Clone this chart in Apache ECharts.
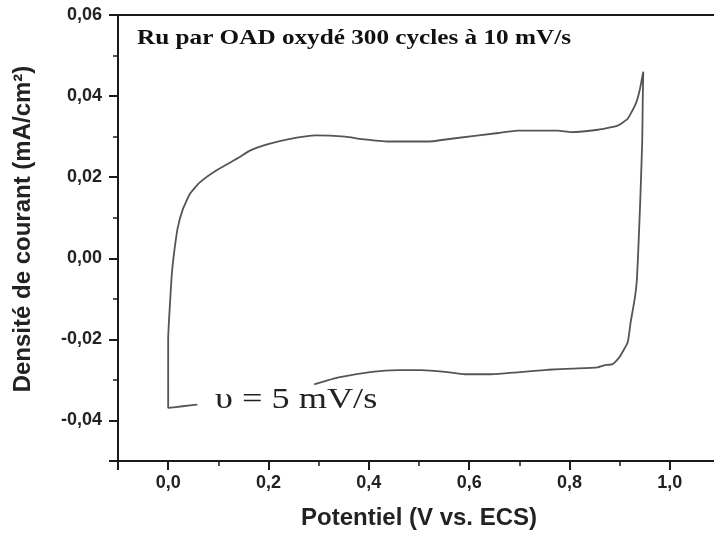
<!DOCTYPE html>
<html>
<head>
<meta charset="utf-8">
<script src="https://cdn.jsdelivr.net/npm/echarts@6/dist/echarts.min.js"></script>
<style>
  html, body { margin: 0; padding: 0; background: #ffffff; overflow: hidden; width: 714px; height: 535px; }
  #chart { width: 723px; height: 535px; }
</style>
</head>
<body>
<div id="chart"></div>
<script>
// Potential (V vs. ECS) along the recorded voltammogram
const potential = [0.058, 0.029, 0.000, 0.000, 0.005, 0.008, 0.013, 0.019, 0.029, 0.043,
  0.062, 0.095, 0.142, 0.162, 0.201, 0.241, 0.294, 0.353, 0.386, 0.439,
  0.519, 0.572, 0.658, 0.697, 0.777, 0.803, 0.857, 0.896, 0.916, 0.932,
  0.940, 0.947, 0.946, 0.945, 0.941, 0.937, 0.934, 0.930, 0.922, 0.916,
  0.899, 0.886, 0.869, 0.856, 0.806, 0.757, 0.691, 0.644, 0.592, 0.552,
  0.505, 0.459, 0.406, 0.340, 0.291];
// Current density (mA/cm²)
const current = [-0.0361, -0.0365, -0.0369, -0.0200, -0.0083, -0.0029, 0.0025, 0.0075, 0.0120, 0.0158,
  0.0186, 0.0216, 0.0249, 0.0265, 0.0282, 0.0294, 0.0303, 0.0300, 0.0294, 0.0288,
  0.0288, 0.0296, 0.0309, 0.0315, 0.0315, 0.0311, 0.0317, 0.0327, 0.0344, 0.0381,
  0.0415, 0.0460, 0.0390, 0.0290, 0.0141, 0.0017, -0.0058, -0.0100, -0.0157, -0.0207,
  -0.0245, -0.0261, -0.0264, -0.0269, -0.0272, -0.0275, -0.0282, -0.0286, -0.0286, -0.0280,
  -0.0276, -0.0276, -0.0280, -0.0294, -0.0311];

const xTickValues = [0.0, 0.2, 0.4, 0.6, 0.8, 1.0];
const xTickLabels = ['0,0', '0,2', '0,4', '0,6', '0,8', '1,0'];
const yTickValues = [-0.04, -0.02, 0.00, 0.02, 0.04, 0.06];
const yTickLabels = ['-0,04', '-0,02', '0,00', '0,02', '0,04', '0,06'];

const titleText = 'Ru par OAD oxydé 300 cycles à 10 mV/s';
const noteText = 'υ = 5 mV/s';
const xName = 'Potentiel (V vs. ECS)';
const yName = 'Densité de courant (mA/cm²)';

function lookup(values, labels) {
  return function (val) {
    const i = values.findIndex(t => Math.abs(t - val) < 1e-9);
    return i >= 0 ? labels[i] : '';
  };
}

const axisColor = '#1a1a1a';
const labelStyle = { fontSize: 18, fontWeight: 'bold', fontFamily: 'Liberation Sans', color: '#222' };

const chart = echarts.init(document.getElementById('chart'), null, { renderer: 'canvas' });
chart.setOption({
  animation: false,
  backgroundColor: '#ffffff',
  grid: { left: 118, right: 0, top: 15, bottom: 74, containLabel: false },
  xAxis: [{
    type: 'value', min: -0.1, max: 1.1, position: 'bottom',
    axisLine: { show: true, onZero: false, lineStyle: { color: axisColor, width: 2 } },
    axisTick: { show: true, inside: false, length: 9, lineStyle: { color: axisColor, width: 2 } },
    minorTick: { show: true, splitNumber: 2, length: 5, lineStyle: { color: axisColor, width: 1.5 } },
    splitLine: { show: false },
    axisLabel: Object.assign({ margin: 13, formatter: lookup(xTickValues, xTickLabels) }, labelStyle),
    name: xName, nameLocation: 'middle', nameGap: 45,
    nameTextStyle: { fontSize: 24, fontWeight: 'bold', fontFamily: 'Liberation Sans', color: '#222' }
  }, {
    type: 'value', min: -0.1, max: 1.1, position: 'top',
    axisLine: { show: true, onZero: false, lineStyle: { color: axisColor, width: 2 } },
    axisTick: { show: false }, axisLabel: { show: false }, splitLine: { show: false }
  }],
  yAxis: {
    type: 'value', min: -0.05, max: 0.06, position: 'left',
    axisLine: { show: true, onZero: false, lineStyle: { color: axisColor, width: 2 } },
    axisTick: { show: true, inside: false, length: 9, lineStyle: { color: axisColor, width: 2 } },
    minorTick: { show: true, splitNumber: 2, length: 5, lineStyle: { color: axisColor, width: 1.5 } },
    splitLine: { show: false },
    axisLabel: Object.assign({ margin: 16, formatter: lookup(yTickValues, yTickLabels) }, labelStyle)
  },
  graphic: [
    { type: 'text', x: 137, y: 39, scaleX: 1.2, z: 10,
      style: { text: titleText, font: 'bold 21px "Liberation Serif"', fill: '#111',
               align: 'left', verticalAlign: 'middle', textAlign: 'left', textVerticalAlign: 'middle' } },
    { type: 'text', x: 215, y: 400, scaleX: 1.25, z: 10,
      style: { text: noteText, font: '29px "Liberation Serif"', fill: '#222',
               align: 'left', verticalAlign: 'middle', textAlign: 'left', textVerticalAlign: 'middle' } },
    { type: 'text', x: 23, y: 229, rotation: Math.PI / 2, z: 10,
      style: { text: yName, font: 'bold 24px "Liberation Sans"', fill: '#222',
               align: 'center', verticalAlign: 'middle', textAlign: 'center', textVerticalAlign: 'middle' } }
  ],
  series: [{
    type: 'line',
    xAxisIndex: 0,
    data: potential.map((v, i) => [v, current[i]]),
    showSymbol: false,
    symbol: 'none',
    smooth: 0.15,
    lineStyle: { color: '#555', width: 1.8 },
    clip: true
  }]
});
</script>
</body>
</html>
